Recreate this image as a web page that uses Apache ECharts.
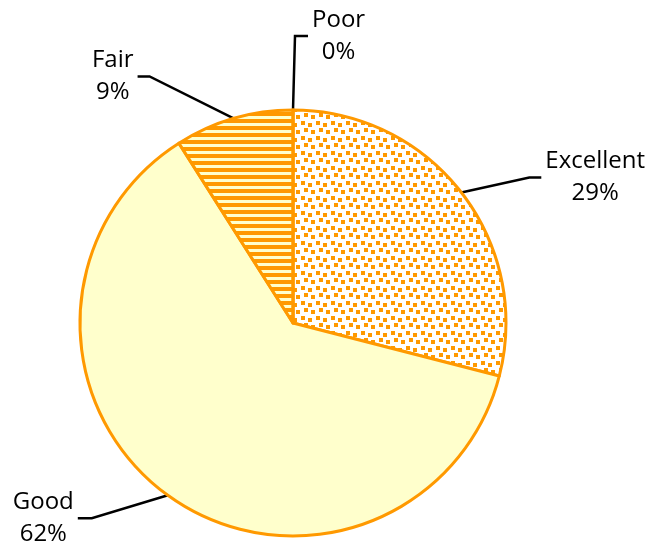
<!DOCTYPE html>
<html>
<head>
<meta charset="utf-8">
<script src="https://cdn.jsdelivr.net/npm/echarts@6/dist/echarts.min.js"></script>
<style>
  html, body { margin: 0; padding: 0; background: #fff; }
  #chart { width: 647px; height: 550px; }
</style>
</head>
<body>
<div id="chart"></div>
<script>
// data
var categories = ['Excellent', 'Good', 'Fair', 'Poor'];
var values = [29, 62, 9, 0];

// label line shape per slice: [dx1, dy1, dx2] from the arc midpoint
var lineOffsets = [[68, -15, 12], [-76, 23, -14], [-84, -42, -12], [2, -74, 13]];

var ORANGE = '#FF9900';
var PALE = '#FFFFCC';

function stripeTile() {
  var c = document.createElement('canvas');
  c.width = 8; c.height = 7;
  var g = c.getContext('2d');
  g.fillStyle = PALE; g.fillRect(0, 0, 8, 7);
  g.fillStyle = ORANGE; g.fillRect(0, 0, 8, 4);
  return c;
}

function dotTile() {
  var c = document.createElement('canvas');
  c.width = 15; c.height = 15;
  var g = c.getContext('2d');
  g.fillStyle = '#fff'; g.fillRect(0, 0, 15, 15);
  g.fillStyle = ORANGE;
  [[1, 1], [8, 3], [4, 8], [11, 10]].forEach(function (p) {
    g.fillRect(p[0], p[1], 4, 4);
  });
  return c;
}

var fills = [
  { image: dotTile(), repeat: 'repeat' },
  PALE,
  { image: stripeTile(), repeat: 'repeat' },
  '#fff'
];

var seriesData = categories.map(function (name, i) {
  return { name: name, value: values[i], itemStyle: { color: fills[i] } };
});

var myChart = echarts.init(document.getElementById('chart'));
myChart.setOption({
  animation: false,
  series: [
    {
      type: 'pie',
      center: [293, 323],
      radius: 213,
      startAngle: 90,
      clockwise: true,
      avoidLabelOverlap: false,
      data: seriesData,
      itemStyle: {
        borderColor: ORANGE,
        borderWidth: 3
      },
      label: {
        show: true,
        position: 'outside',
        formatter: '{b}\n{d}%',
        fontFamily: 'Open Sans',
        fontSize: 24,
        lineHeight: 32,
        color: '#000'
      },
      labelLine: {
        show: true,
        smooth: false,
        lineStyle: { color: '#000', width: 2.5 }
      },
      labelLayout: function (params) {
        var o = lineOffsets[params.dataIndex];
        var p0 = params.labelLinePoints[0];
        var p1 = [p0[0] + o[0], p0[1] + o[1]];
        var p2 = [p1[0] + o[2], p1[1]];
        var half = params.labelRect.width / 2;
        var gap = 4;
        var x = o[2] > 0 ? p2[0] + gap + half : p2[0] - gap - half;
        return {
          x: x,
          y: p2[1],
          align: 'center',
          verticalAlign: 'middle',
          labelLinePoints: [p0, p1, p2]
        };
      },
      emphasis: { disabled: true }
    }
  ]
});
</script>
</body>
</html>
